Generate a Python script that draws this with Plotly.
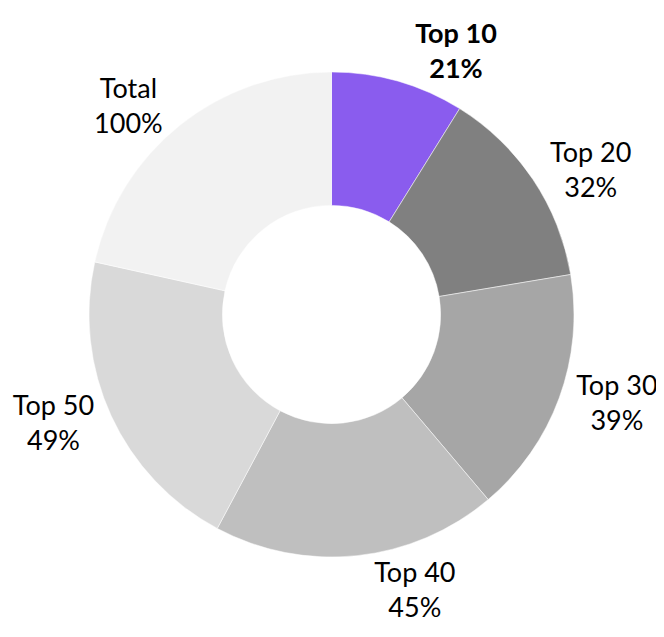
import plotly.graph_objects as go

categories = ["Top 10", "Top 20", "Top 30", "Top 40", "Top 50", "Total"]
slice_values = [21, 32, 39, 45, 49, 51]
pct_labels = ["21%", "32%", "39%", "45%", "49%", "100%"]
colors = ["#8A5CEE", "#808080", "#A6A6A6", "#BFBFBF", "#D9D9D9", "#F2F2F2"]

texts = []
for i, (c, p) in enumerate(zip(categories, pct_labels)):
    t = f"{c}<br>{p}"
    if i == 0:
        t = f"<b>{c}</b><br><b>{p}</b>"
    texts.append(t)

fig = go.Figure(
    go.Pie(
        labels=categories,
        values=slice_values,
        text=texts,
        textinfo="text",
        textposition="outside",
        sort=False,
        direction="clockwise",
        rotation=0,
        hole=0.45,
        marker=dict(colors=colors, line=dict(color="white", width=0.5)),
        textfont=dict(family="Lato, Open Sans, sans-serif", size=27, color="black"),
        showlegend=False,
    )
)

fig.update_layout(
    width=656,
    height=629,
    margin=dict(l=81, r=90, t=64, b=80),
    paper_bgcolor="white",
    plot_bgcolor="white",
)

fig.write_html("out.html")
